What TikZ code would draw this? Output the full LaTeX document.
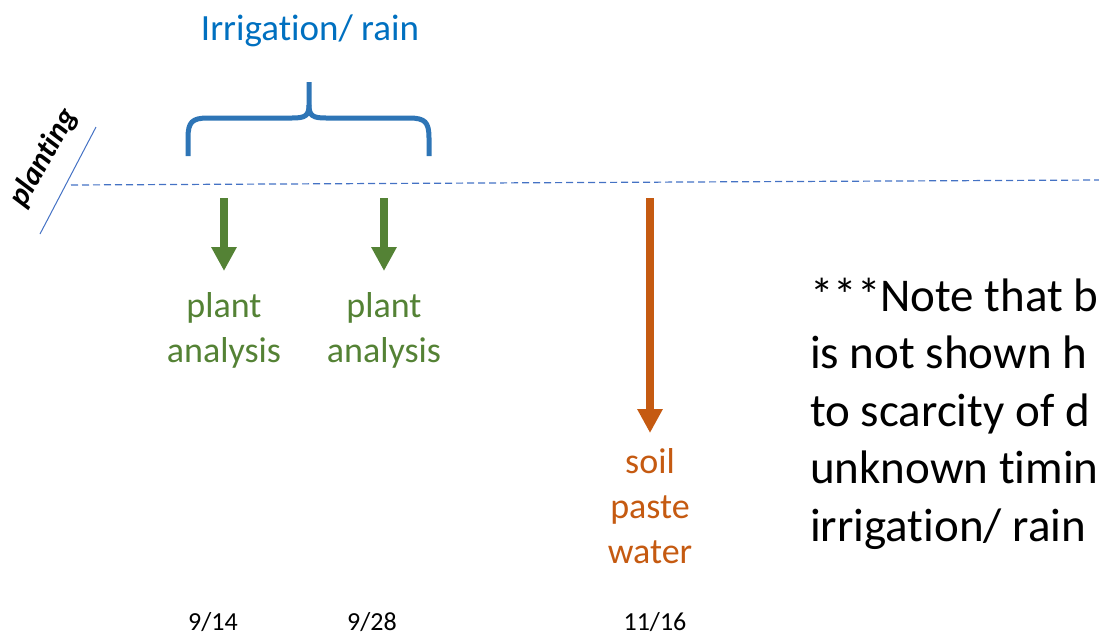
\documentclass[tikz,border=0pt]{standalone}
\usepackage{fontspec}
\setmainfont{Carlito}[Ligatures=NoCommon]
\usetikzlibrary{arrows.meta}
\definecolor{braceblue}{HTML}{2E75B6}
\definecolor{textblue}{HTML}{0070C0}
\definecolor{lineblue}{HTML}{4472C4}
\definecolor{leafgreen}{HTML}{548235}
\definecolor{soilorange}{HTML}{C55A11}
\tikzset{
  lbl/.style={inner sep=0pt, anchor=base, align=center, font=\fontsize{36}{45}\selectfont},
  datelbl/.style={inner sep=0pt, anchor=base, font=\fontsize{26}{30}\selectfont},
  bigarrow/.style={line width=8pt, -{Triangle[width=24pt,length=24pt]}},
}
\begin{document}
\begin{tikzpicture}[x=1pt,y=-1pt]
\useasboundingbox (0,0) rectangle (1099,635);
% timeline
\coordinate (tlA) at (71,185);
\coordinate (tlB) at (1099,180);
\draw[lineblue, line width=1.2pt, dash pattern=on 7pt off 4pt] (tlA) -- (tlB);
% planting slash
\coordinate (slA) at (40,234);
\coordinate (slB) at (96,127);
\draw[lineblue, line width=1pt] (slA) -- (slB);
\node[inner sep=0pt, rotate=60, font=\fontsize{31}{34}\selectfont\bfseries\itshape] (plant) at (44,158) {planting};
% brace
\draw[braceblue, line width=5pt]
  (188,156) -- (188,138) .. controls (188,122) and (192,118) .. (208,118) -- (292,118)
  .. controls (305,118) and (309,116) .. (309,105) -- (309,82);
\draw[braceblue, line width=5pt]
  (429,156) -- (429,138) .. controls (429,122) and (425,118) .. (409,118) -- (326,118)
  .. controls (313,118) and (309,116) .. (309,105);
\node[lbl, text=textblue, font=\fontsize{37}{45}\selectfont] (irr) at (310,40) {Irrigation/ rain};
% green arrows
\coordinate (g1s) at (224,198); \coordinate (g1e) at (224,271);
\coordinate (g2s) at (384,198); \coordinate (g2e) at (384,271);
\draw[bigarrow, leafgreen] (g1s) -- (g1e);
\draw[bigarrow, leafgreen] (g2s) -- (g2e);
% multi-line nodes: base anchor = baseline of the last line
\node[lbl, text=leafgreen] (pa1) at (224,362) {plant\\analysis};
\node[lbl, text=leafgreen] (pa2) at (384,362) {plant\\analysis};
% orange arrow
\coordinate (os) at (650,198); \coordinate (oe) at (650,433);
\draw[bigarrow, soilorange] (os) -- (oe);
\node[lbl, text=soilorange] (soil) at (650,563) {soil\\paste\\water};
% note
\node[inner sep=0pt, anchor=base west, align=left, font=\fontsize{47}{57.5}\selectfont] (note) at (810,541)
  {***Note that b\\is not shown h\\to scarcity of d\\unknown timin\\irrigation/ rain};
% dates
\node[datelbl] (d1) at (213,630) {9/14};
\node[datelbl] (d2) at (372,630) {9/28};
\node[datelbl] (d3) at (655,630) {11/16};
\end{tikzpicture}
\end{document}
